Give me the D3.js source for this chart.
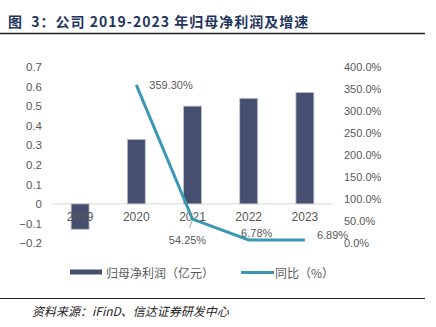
<!DOCTYPE html>
<html>
<head>
<meta charset="utf-8">
<script src="https://cdn.jsdelivr.net/npm/d3@7"></script>
<style>
  html, body { margin: 0; padding: 0; background: #fff; }
  svg { display: block; font-family: 'Liberation Sans', 'Noto Sans CJK SC', sans-serif; }
</style>
</head>
<body>
<svg id="chart" width="436" height="327"></svg>
<script>
var years = ['2019', '2020', '2021', '2022', '2023']
var profit = [-0.13, 0.33, 0.50, 0.54, 0.57]
var growth = [null, 3.593, 0.5425, 0.0678, 0.0689]
var growthLabels = [null, '359.30%', '54.25%', '6.78%', '6.89%']
var leftTicks = [-0.2, -0.1, 0, 0.1, 0.2, 0.3, 0.4, 0.5, 0.6, 0.7]
var rightTicks = [0, 0.5, 1, 1.5, 2, 2.5, 3, 3.5, 4]

var svg = d3.select('#chart')
var cjk = "'Noto Sans CJK SC', sans-serif"
var grey = '#595959'
var barColor = '#474f70'
var lineColor = '#3a98b4'

/*
    --------------------------------------
    Title and frame lines
*/
svg.append('text')
    .attr('x', 8)
    .attr('y', 27)
    .style('font-family', cjk)
    .style('font-size', '14px')
    .style('font-weight', 'bold')
    .style('letter-spacing', '1px')
    .style('white-space', 'pre')
    .style('fill', '#1f355e')
    .text('图  3：公司 2019-2023 年归母净利润及增速')

svg.append('line')
    .attr('x1', 0).attr('x2', 425)
    .attr('y1', 33.5).attr('y2', 33.5)
    .style('stroke', '#222').style('stroke-width', 1.5)

svg.append('line')
    .attr('x1', 0).attr('x2', 425)
    .attr('y1', 298.5).attr('y2', 298.5)
    .style('stroke', '#222').style('stroke-width', 1.2)

svg.append('text')
    .attr('x', 32)
    .attr('y', 316)
    .style('font-family', cjk)
    .style('font-size', '12px')
    .style('font-style', 'italic')
    .style('fill', '#222')
    .text('资料来源：iFinD、信达证券研发中心')

/*
    --------------------------------------
    Scales
*/
var mapx = d3.scaleBand()
    .domain(years)
    .range([52, 333])
    .paddingInner(0.68)
    .paddingOuter(0.34)

var mapy = d3.scaleLinear()
    .domain([-0.2, 0.7])
    .range([243, 67])

var mapy2 = d3.scaleLinear()
    .domain([0, 4])
    .range([243, 67])

/*
    --------------------------------------
    Axes
*/
var yAxis = d3.axisLeft(mapy)
    .tickValues(leftTicks)
    .tickSize(0)
    .tickPadding(0)
    .tickFormat(d => Math.abs(d) < 1e-9 ? '0' : d3.format('.1f')(d))

svg.append('g')
    .attr('transform', 'translate(42,0)')
    .call(yAxis)
    .call(g => g.select('.domain').remove())
    .selectAll('text')
    .style('font-size', '11.5px')
    .style('font-family', "'Liberation Sans', sans-serif")
    .style('fill', grey)

var yAxis2 = d3.axisRight(mapy2)
    .tickValues(rightTicks)
    .tickSize(0)
    .tickPadding(0)
    .tickFormat(d3.format('.1%'))

svg.append('g')
    .attr('transform', 'translate(344,0)')
    .call(yAxis2)
    .call(g => g.select('.domain').remove())
    .selectAll('text')
    .style('font-size', '11px')
    .style('font-family', "'Liberation Sans', sans-serif")
    .style('fill', grey)

// zero line
svg.append('line')
    .attr('x1', 52).attr('x2', 333)
    .attr('y1', mapy(0)).attr('y2', mapy(0))
    .style('stroke', '#d9d9d9').style('stroke-width', 1)

/*
    --------------------------------------
    Bars
*/
svg.append('g')
    .selectAll('rect')
    .data(profit)
    .enter()
    .append('rect')
    .attr('x', (d, i) => mapx(years[i]))
    .attr('width', mapx.bandwidth())
    .attr('y', d => d >= 0 ? mapy(d) : mapy(0))
    .attr('height', d => Math.abs(mapy(d) - mapy(0)))
    .style('fill', barColor)
    .style('stroke', '#c3c6d2')
    .style('stroke-width', 0.8)

// category labels sit over the bars
svg.append('g')
    .selectAll('text')
    .data(years)
    .enter()
    .append('text')
    .attr('x', d => mapx(d) + mapx.bandwidth() / 2)
    .attr('y', 221)
    .attr('text-anchor', 'middle')
    .style('font-size', '12px')
    .style('fill', grey)
    .text(d => d)

/*
    --------------------------------------
    Growth line
*/
var cx = (d, i) => mapx(years[i]) + mapx.bandwidth() / 2

var line = d3.line()
    .defined(d => d !== null)
    .x(cx)
    .y(d => mapy2(d))

svg.append('path')
    .datum(growth)
    .attr('d', line)
    .style('fill', 'none')
    .style('stroke', lineColor)
    .style('stroke-width', 3)

// label offsets: [dx, dy, anchor]
var labelPos = [null, [13, 4, 'start'], [-5, 25, 'middle'], [8, -3, 'middle'], [12, -1, 'start']]

svg.append('g')
    .selectAll('text')
    .data(growth)
    .enter()
    .filter(d => d !== null)
    .append('text')
    .attr('x', (d, i) => cx(d, i + 1) + labelPos[i + 1][0])
    .attr('y', (d, i) => mapy2(d) + labelPos[i + 1][1])
    .attr('text-anchor', (d, i) => labelPos[i + 1][2])
    .style('font-size', '11px')
    .style('fill', grey)
    .text((d, i) => growthLabels[i + 1])

// leader for 54.25%
svg.append('line')
    .attr('x1', cx(0, 2) - 0.5).attr('y1', mapy2(growth[2]) + 2)
    .attr('x2', cx(0, 2) - 3).attr('y2', mapy2(growth[2]) + 9)
    .style('stroke', '#8c8c8c').style('stroke-width', 0.8)

/*
    --------------------------------------
    Legend
*/
var legend = svg.append('g')

legend.append('rect')
    .attr('x', 70).attr('y', 269.5)
    .attr('width', 32).attr('height', 5)
    .style('fill', barColor)

legend.append('text')
    .attr('x', 106).attr('y', 278)
    .style('font-family', cjk)
    .style('font-size', '12px')
    .style('fill', grey)
    .text('归母净利润（亿元）')

legend.append('line')
    .attr('x1', 241).attr('x2', 274)
    .attr('y1', 272.5).attr('y2', 272.5)
    .style('stroke', lineColor)
    .style('stroke-width', 3)

legend.append('text')
    .attr('x', 275).attr('y', 278)
    .style('font-family', cjk)
    .style('font-size', '12px')
    .style('fill', grey)
    .text('同比（%）')
</script>
</body>
</html>
